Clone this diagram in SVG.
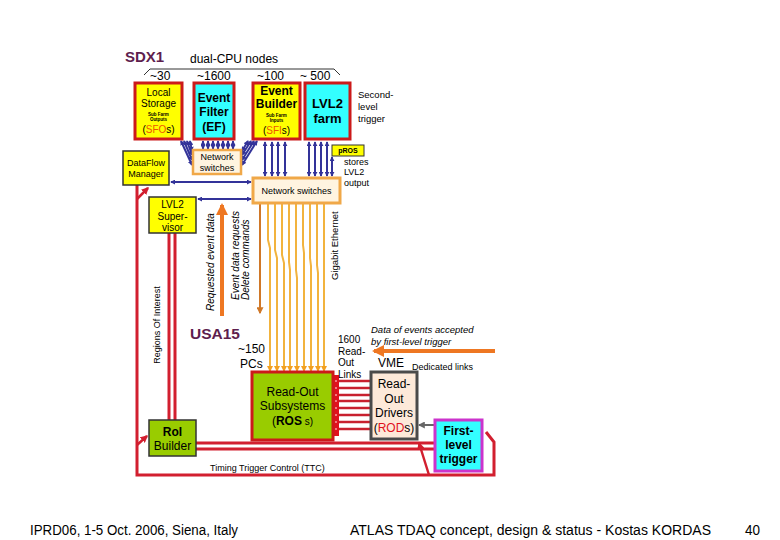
<svg xmlns="http://www.w3.org/2000/svg" width="780" height="540" viewBox="0 0 780 540">
<defs>
<style>
text { font-family: "Liberation Sans", Arial, sans-serif; fill:#000; }
.c { text-anchor: middle; }
.b { font-weight: bold; }
.it { font-style: italic; }
.nav { stroke:#333399; stroke-width:2; fill:none; marker-start:url(#an); marker-end:url(#an); }
.gold { stroke:#f2b33d; stroke-width:2; fill:none; marker-end:url(#ag); }
.red { stroke:#d21f2f; stroke-width:3; fill:none; }
.redA { stroke:#d21f2f; stroke-width:2.5; fill:none; marker-end:url(#ar); }
.redbox { stroke:#cc1a1a; stroke-width:3; }
.yel { fill:#ffff00; }
.cyan { fill:#33ffff; }
.green { fill:#99cc00; }
.thin { stroke:#333; stroke-width:1.5; }
</style>
<marker id="an" viewBox="0 0 6 6" refX="5" refY="3" markerWidth="2.5" markerHeight="2.5" orient="auto-start-reverse"><path d="M0,0 L6,3 L0,6z" fill="#333399"/></marker>
<marker id="ag" viewBox="0 0 6 6" refX="5" refY="3" markerWidth="3" markerHeight="3" orient="auto"><path d="M0,0 L6,3 L0,6z" fill="#f2a020"/></marker>
<marker id="ao" viewBox="0 0 6 6" refX="5" refY="3" markerWidth="3" markerHeight="3" orient="auto"><path d="M0,0 L6,3 L0,6z" fill="#ee7722"/></marker>
<marker id="ab" viewBox="0 0 6 6" refX="5" refY="3" markerWidth="3.5" markerHeight="3.5" orient="auto"><path d="M0,0 L6,3 L0,6z" fill="#d07828"/></marker>
<marker id="agr" viewBox="0 0 6 6" refX="5" refY="3" markerWidth="3.5" markerHeight="3.5" orient="auto"><path d="M0,0 L6,3 L0,6z" fill="#666"/></marker>
<marker id="ar" viewBox="0 0 6 6" refX="5" refY="3" markerWidth="3" markerHeight="3" orient="auto"><path d="M0,0 L6,3 L0,6z" fill="#d21f2f"/></marker>
</defs>
<rect width="780" height="540" fill="#fff"/>

<!-- headings -->
<text x="125" y="62" class="b" font-size="15" fill="#5e1e4e" style="fill:#5e1e4e">SDX1</text>
<text x="190" y="63" font-size="12">dual-CPU nodes</text>
<path d="M144,75 L150,69 L334,69 L340,75" fill="none" stroke="#333" stroke-width="1"/>
<text x="150" y="80" font-size="12">~30</text>
<text x="197" y="80" font-size="12">~1600</text>
<text x="257" y="80" font-size="12">~100</text>
<text x="300" y="80" font-size="12">~ 500</text>
<text x="358" y="98" font-size="9.5">Second-</text>
<text x="358" y="110" font-size="9.5">level</text>
<text x="358" y="122" font-size="9.5">trigger</text>

<!-- connectors -->
<g id="connectors">
  <!-- EF short arrows -->
  <line class="nav" x1="203" y1="141" x2="203" y2="149"/>
  <line class="nav" x1="208" y1="141" x2="208" y2="149"/>
  <line class="nav" x1="213" y1="141" x2="213" y2="149"/>
  <line class="nav" x1="218" y1="141" x2="218" y2="149"/>
  <line class="nav" x1="223" y1="141" x2="223" y2="149"/>
  <line class="nav" x1="228" y1="141" x2="228" y2="149"/>
  <line class="nav" x1="233" y1="141" x2="233" y2="149"/>
  <!-- LS diagonals -->
  <line class="nav" x1="181" y1="141" x2="192" y2="165"/>
  <line class="nav" x1="184" y1="141" x2="192" y2="160"/>
  <line class="nav" x1="187" y1="141" x2="192" y2="155"/>
  <line class="nav" x1="190" y1="141" x2="192" y2="151"/>
  <!-- EB diagonals -->
  <line class="nav" x1="257" y1="141" x2="242" y2="165"/>
  <line class="nav" x1="254" y1="141" x2="242" y2="160"/>
  <line class="nav" x1="251" y1="141" x2="242" y2="155"/>
  <line class="nav" x1="248" y1="141" x2="242" y2="151"/>
  <!-- EB verticals -->
  <line class="nav" x1="265" y1="142" x2="265" y2="176"/>
  <line class="nav" x1="272" y1="142" x2="272" y2="176"/>
  <line class="nav" x1="278" y1="142" x2="278" y2="176"/>
  <line class="nav" x1="285" y1="142" x2="285" y2="176"/>
  <!-- LVL2 verticals -->
  <line class="nav" x1="309" y1="142" x2="309" y2="176"/>
  <line class="nav" x1="315" y1="142" x2="315" y2="176"/>
  <line class="nav" x1="321" y1="142" x2="321" y2="176"/>
  <line class="nav" x1="327" y1="142" x2="327" y2="176"/>
  <line class="nav" x1="332" y1="157" x2="332" y2="176"/>
  <!-- DFM / L2SV to NS -->
  <line class="nav" x1="171" y1="182" x2="251" y2="182"/>
  <line class="nav" x1="198" y1="199" x2="251" y2="199"/>

  <!-- gold lines NS -> ROS -->
  <path class="gold" d="M268,203 V240 L270,248 V371"/>
  <path class="gold" d="M275,203 V250 L277,258 V371"/>
  <path class="gold" d="M282,203 V255 L284,263 V371"/>
  <path class="gold" d="M289,203 V262 L290,270 V371"/>
  <path class="gold" d="M296,203 V270 L297,278 V371"/>
  <path class="gold" d="M303,203 V245 L304,253 V371"/>
  <path class="gold" d="M310,203 V258 L311,266 V371"/>
  <path class="gold" d="M317,203 V265 L318,273 V371"/>
  <path class="gold" d="M324,203 V280 L324,288 V371"/>
  <!-- brown down arrow -->
  <line x1="260" y1="203" x2="260" y2="313" stroke="#d07828" stroke-width="2" marker-end="url(#ab)"/>
  <!-- orange up arrow -->
  <line x1="222" y1="316" x2="222" y2="205" stroke="#ee7722" stroke-width="4" marker-end="url(#ao)"/>
  <!-- data of events arrow -->
  <line x1="495" y1="351" x2="374" y2="351" stroke="#ee7722" stroke-width="4" marker-end="url(#ao)"/>

  <!-- ROS -> ROD links -->
  <g stroke="#c8202e" stroke-width="2.5">
    <line x1="338" y1="381" x2="370" y2="381"/>
    <line x1="338" y1="388" x2="370" y2="388"/>
    <line x1="338" y1="395" x2="370" y2="395"/>
    <line x1="338" y1="401" x2="370" y2="401"/>
    <line x1="338" y1="408" x2="370" y2="408"/>
    <line x1="338" y1="415" x2="370" y2="415"/>
    <line x1="338" y1="422" x2="370" y2="422"/>
    <line x1="338" y1="429" x2="370" y2="429"/>
  </g>
  <rect x="333" y="375" width="6" height="61" fill="#e0101e"/>
  <g fill="#fff">
    <circle cx="336" cy="381" r="0.8"/><circle cx="336" cy="388" r="0.8"/><circle cx="336" cy="395" r="0.8"/><circle cx="336" cy="401" r="0.8"/>
    <circle cx="336" cy="408" r="0.8"/><circle cx="336" cy="415" r="0.8"/><circle cx="336" cy="422" r="0.8"/><circle cx="336" cy="429" r="0.8"/>
  </g>

  <!-- FLT -> ROD gray arrow -->
  <line x1="434" y1="425" x2="419" y2="425" stroke="#666" stroke-width="2" marker-end="url(#agr)"/>

  <!-- red TTC / RoI -->
  <path class="red" d="M137,185 V475 H494 V442 L486,432"/>
  <line class="redA" x1="137" y1="199" x2="148" y2="188"/>
  <line class="redA" x1="137" y1="445" x2="147" y2="436"/>
  <line class="redA" x1="429" y1="475" x2="419" y2="443"/>
  <line class="red" x1="169" y1="233" x2="169" y2="420" stroke-width="2.5"/>
  <line class="red" x1="175" y1="233" x2="175" y2="420" stroke-width="2.5"/>
  <line class="red" x1="196" y1="443" x2="434" y2="443"/>
  <line class="red" x1="196" y1="449" x2="434" y2="449"/>
</g>

<!-- nodes -->
<g id="local-storage">
  <rect x="135" y="83" width="47" height="56" class="yel redbox"/>
  <text x="158.5" y="96" class="c" font-size="10">Local</text>
  <text x="158.5" y="107" class="c" font-size="10">Storage</text>
  <text x="158.5" y="116" class="c b" font-size="4.5">Sub Farm</text>
  <text x="158.5" y="121" class="c b" font-size="4.5">Outputs</text>
  <text x="158.5" y="133" class="c" font-size="10">(<tspan style="fill:#ee5500">SFO</tspan>s)</text>
</g>
<g id="event-filter">
  <rect x="194" y="83" width="40" height="56" class="cyan redbox"/>
  <text x="214" y="102" class="c b" font-size="12">Event</text>
  <text x="214" y="116" class="c b" font-size="12">Filter</text>
  <text x="214" y="131" class="c b" font-size="12">(EF)</text>
</g>
<g id="event-builder">
  <rect x="253" y="83" width="47" height="56" class="yel redbox"/>
  <text x="276.5" y="95" class="c b" font-size="12">Event</text>
  <text x="276.5" y="108" class="c b" font-size="12">Builder</text>
  <text x="276.5" y="117" class="c b" font-size="4.5">Sub Farm</text>
  <text x="276.5" y="122" class="c b" font-size="4.5">Inputs</text>
  <text x="276.5" y="134" class="c" font-size="10">(<tspan style="fill:#ee5500">SFI</tspan>s)</text>
</g>
<g id="lvl2-farm">
  <rect x="305" y="83" width="45" height="56" class="cyan redbox"/>
  <text x="327.5" y="108" class="c b" font-size="13">LVL2</text>
  <text x="327.5" y="123" class="c b" font-size="13">farm</text>
</g>
<g id="pros">
  <rect x="332" y="145" width="32" height="11" class="yel" stroke="#333" stroke-width="1"/>
  <text x="348" y="153" class="c b" font-size="7">pROS</text>
  <text x="344" y="165" font-size="9">stores</text>
  <text x="344" y="175" font-size="9">LVL2</text>
  <text x="344" y="186" font-size="9">output</text>
</g>
<g id="small-switches">
  <rect x="193" y="150" width="48" height="24" fill="#fff4e0" stroke="#f0a848" stroke-width="2.5"/>
  <text x="217" y="160" class="c" font-size="9">Network</text>
  <text x="217" y="171" class="c" font-size="9">switches</text>
</g>
<g id="dataflow-manager">
  <rect x="123" y="151" width="46" height="34" class="yel thin"/>
  <text x="146" y="166" class="c" font-size="9">DataFlow</text>
  <text x="146" y="177" class="c" font-size="9">Manager</text>
</g>
<g id="network-switches">
  <rect x="253" y="178" width="87" height="25" fill="#fff4e0" stroke="#f0a848" stroke-width="3"/>
  <text x="296.5" y="194" class="c" font-size="9">Network switches</text>
</g>
<g id="lvl2-supervisor">
  <rect x="149" y="197" width="47" height="36" class="yel thin"/>
  <text x="172.5" y="208" class="c" font-size="10">LVL2</text>
  <text x="172.5" y="220" class="c" font-size="10">Super-</text>
  <text x="172.5" y="231" class="c" font-size="10">visor</text>
</g>
<g id="ros">
  <rect x="252" y="372" width="81" height="68" class="green redbox"/>
  <text x="292.5" y="396" class="c" font-size="12">Read-Out</text>
  <text x="292.5" y="410" class="c" font-size="12">Subsystems</text>
  <text x="292.5" y="425" class="c" font-size="12">(<tspan class="b">ROS</tspan><tspan font-size="10"> s)</tspan></text>
</g>
<g id="rod">
  <rect x="371" y="372" width="46" height="67" fill="#fde9d9" stroke="#4a4a4a" stroke-width="3"/>
  <text x="394" y="388" class="c" font-size="12">Read-</text>
  <text x="394" y="403" class="c" font-size="12">Out</text>
  <text x="394" y="417" class="c" font-size="12">Drivers</text>
  <text x="394" y="432" class="c" font-size="12">(<tspan style="fill:#e0101e">ROD</tspan>s)</text>
</g>
<g id="first-level-trigger">
  <rect x="435" y="420" width="47" height="51" class="cyan" stroke="#cc33cc" stroke-width="3"/>
  <text x="458.5" y="435" class="c b" font-size="12">First-</text>
  <text x="458.5" y="449" class="c b" font-size="12">level</text>
  <text x="458.5" y="463" class="c b" font-size="12">trigger</text>
</g>
<g id="roi-builder">
  <rect x="149" y="420" width="47" height="36" class="green thin"/>
  <text x="172.5" y="436" class="c b" font-size="12">RoI</text>
  <text x="172.5" y="450" class="c" font-size="12">Builder</text>
</g>

<!-- labels -->
<text transform="translate(160,325) rotate(-90)" class="c" font-size="9">Regions Of Interest</text>
<text transform="translate(214,262) rotate(-90)" class="c it" font-size="10">Requested event data</text>
<text transform="translate(239,300) rotate(-90)" class="it" font-size="10">Event data requests</text>
<text transform="translate(249,300) rotate(-90)" class="it" font-size="10">Delete commands</text>
<text transform="translate(338,280) rotate(-90)" font-size="9.5">Gigabit Ethernet</text>
<text x="190" y="339" class="b" font-size="15.5" style="fill:#5e1e4e">USA15</text>
<text x="238" y="353" font-size="12">~150</text>
<text x="240" y="368" font-size="12">PCs</text>
<text x="338" y="343" font-size="10">1600</text>
<text x="338" y="355" font-size="10">Read-</text>
<text x="338" y="366" font-size="10">Out</text>
<text x="338" y="378" font-size="10">Links</text>
<text x="371" y="333" class="it" font-size="9.5">Data of events accepted</text>
<text x="371" y="345" class="it" font-size="9.5">by first-level trigger</text>
<text x="378" y="367" font-size="12">VME</text>
<text x="412" y="370" font-size="9">Dedicated links</text>
<text x="210" y="471" font-size="9">Timing Trigger Control (TTC)</text>

<!-- footer -->
<text x="30" y="535" font-size="14" textLength="208" lengthAdjust="spacingAndGlyphs">IPRD06, 1-5 Oct. 2006, Siena, Italy</text>
<text x="350" y="535" font-size="14" textLength="361" lengthAdjust="spacingAndGlyphs">ATLAS TDAQ concept, design &amp; status - Kostas KORDAS</text>
<text x="745" y="535" font-size="14" textLength="15" lengthAdjust="spacingAndGlyphs">40</text>
</svg>
